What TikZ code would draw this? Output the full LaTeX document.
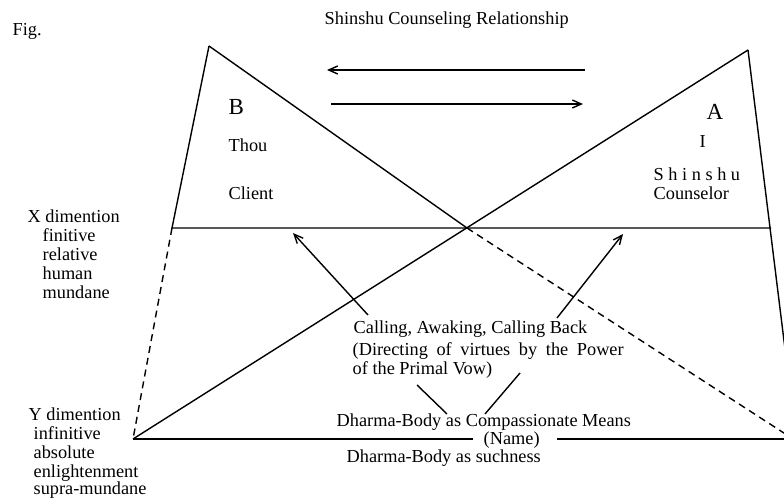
\documentclass[tikz,border=0pt]{standalone}
\usepackage{fontspec}
\setmainfont{Liberation Serif}
\usetikzlibrary{arrows.meta}
\begin{document}
\begin{tikzpicture}[x=1bp,y=-1bp, line width=1.4bp,
  lbl/.style={anchor=base west, inner sep=0pt, font=\fontsize{18.3bp}{22bp}\selectfont},
  big/.style={anchor=base west, inner sep=0pt, font=\fontsize{23bp}{26bp}\selectfont},
  arr/.style={-{Straight Barb[length=9bp,width=8bp]}},
  dsh/.style={dash pattern=on 7bp off 5bp}]
\useasboundingbox (0,0) rectangle (784,499);
% vertices
\coordinate (Bapex) at (209,46);
\coordinate (Xl) at (172,228);
\coordinate (Xr) at (771,228);
\coordinate (C) at (467,228);
\coordinate (Aapex) at (748,50);
\coordinate (Yl) at (133,439);
\coordinate (Rend) at (786,357);
\coordinate (Dend) at (787,435);
\coordinate (Bm1) at (473,439);
\coordinate (Bm2) at (557,439);
\coordinate (Bend) at (786,439);
\coordinate (T1s) at (585,70);
\coordinate (T1e) at (327,70);
\coordinate (T2s) at (331,104);
\coordinate (T2e) at (583,104);
\coordinate (L1s) at (368,315);
\coordinate (L1e) at (293,233);
\coordinate (R1s) at (557,318);
\coordinate (R1e) at (623,234);
\coordinate (D1s) at (417,385);
\coordinate (D1e) at (447,414);
\coordinate (D2s) at (520,373);
\coordinate (D2e) at (485,414);
\begin{scope}
\clip (0,0) rectangle (784,499);
\draw (Bapex) -- (Xl) -- (Xr);
\draw (Bapex) -- (C);
\draw[dsh] (C) -- (Dend);
\draw (Aapex) -- (Yl);
\draw (Aapex) -- (Rend);
\draw[dsh] (Xl) -- (Yl);
\draw (Yl) -- (Bm1);
\draw (Bm2) -- (Bend);
\end{scope}
\draw[arr] (T1s) -- (T1e);
\draw[arr] (T2s) -- (T2e);
\draw[arr] (L1s) -- (L1e);
\draw[arr] (R1s) -- (R1e);
\draw (D1s) -- (D1e);
\draw (D2s) -- (D2e);
% texts
\node[lbl] (fig) at (12,36) {Fig.};
\node[lbl] (title) at (324,25) {Shinshu Counseling Relationship};
\node[big] (B) at (228,115) {B};
\node[lbl] (thou) at (228,152) {Thou};
\node[lbl] (client) at (228,200) {Client};
\node[big] (A) at (706,120) {A};
\node[lbl] (I) at (699,148) {I};
\node[lbl] (shinshu) at (653,181) {S h i n s h u};
\node[lbl] (counselor) at (653,200) {Counselor};
\node[lbl] (xdim) at (27,223) {X dimention};
\node[lbl] (fin) at (42,242) {finitive};
\node[lbl] (rel) at (42,261) {relative};
\node[lbl] (hum) at (42,280) {human};
\node[lbl] (mun) at (42,299) {mundane};
\node[lbl] (ydim) at (28,420) {Y dimention};
\node[lbl] (inf) at (33,439) {infinitive};
\node[lbl] (abs) at (33,458) {absolute};
\node[lbl] (enl) at (33,477) {enlightenment};
\node[lbl] (sup) at (33,494) {supra-mundane};
\node[lbl] (call) at (353,333) {Calling, Awaking, Calling Back};
\node[lbl] (dir) at (352,355) {\makebox[271bp][s]{(Directing of virtues by the Power}};
\node[lbl] (vow) at (352,374) {of the Primal Vow)};
\node[lbl] (dbcm) at (336,426) {Dharma-Body as Compassionate Means};
\node[lbl] (name) at (483,444) {(Name)};
\node[lbl] (such) at (346,462) {Dharma-Body as suchness};
\end{tikzpicture}
\end{document}
